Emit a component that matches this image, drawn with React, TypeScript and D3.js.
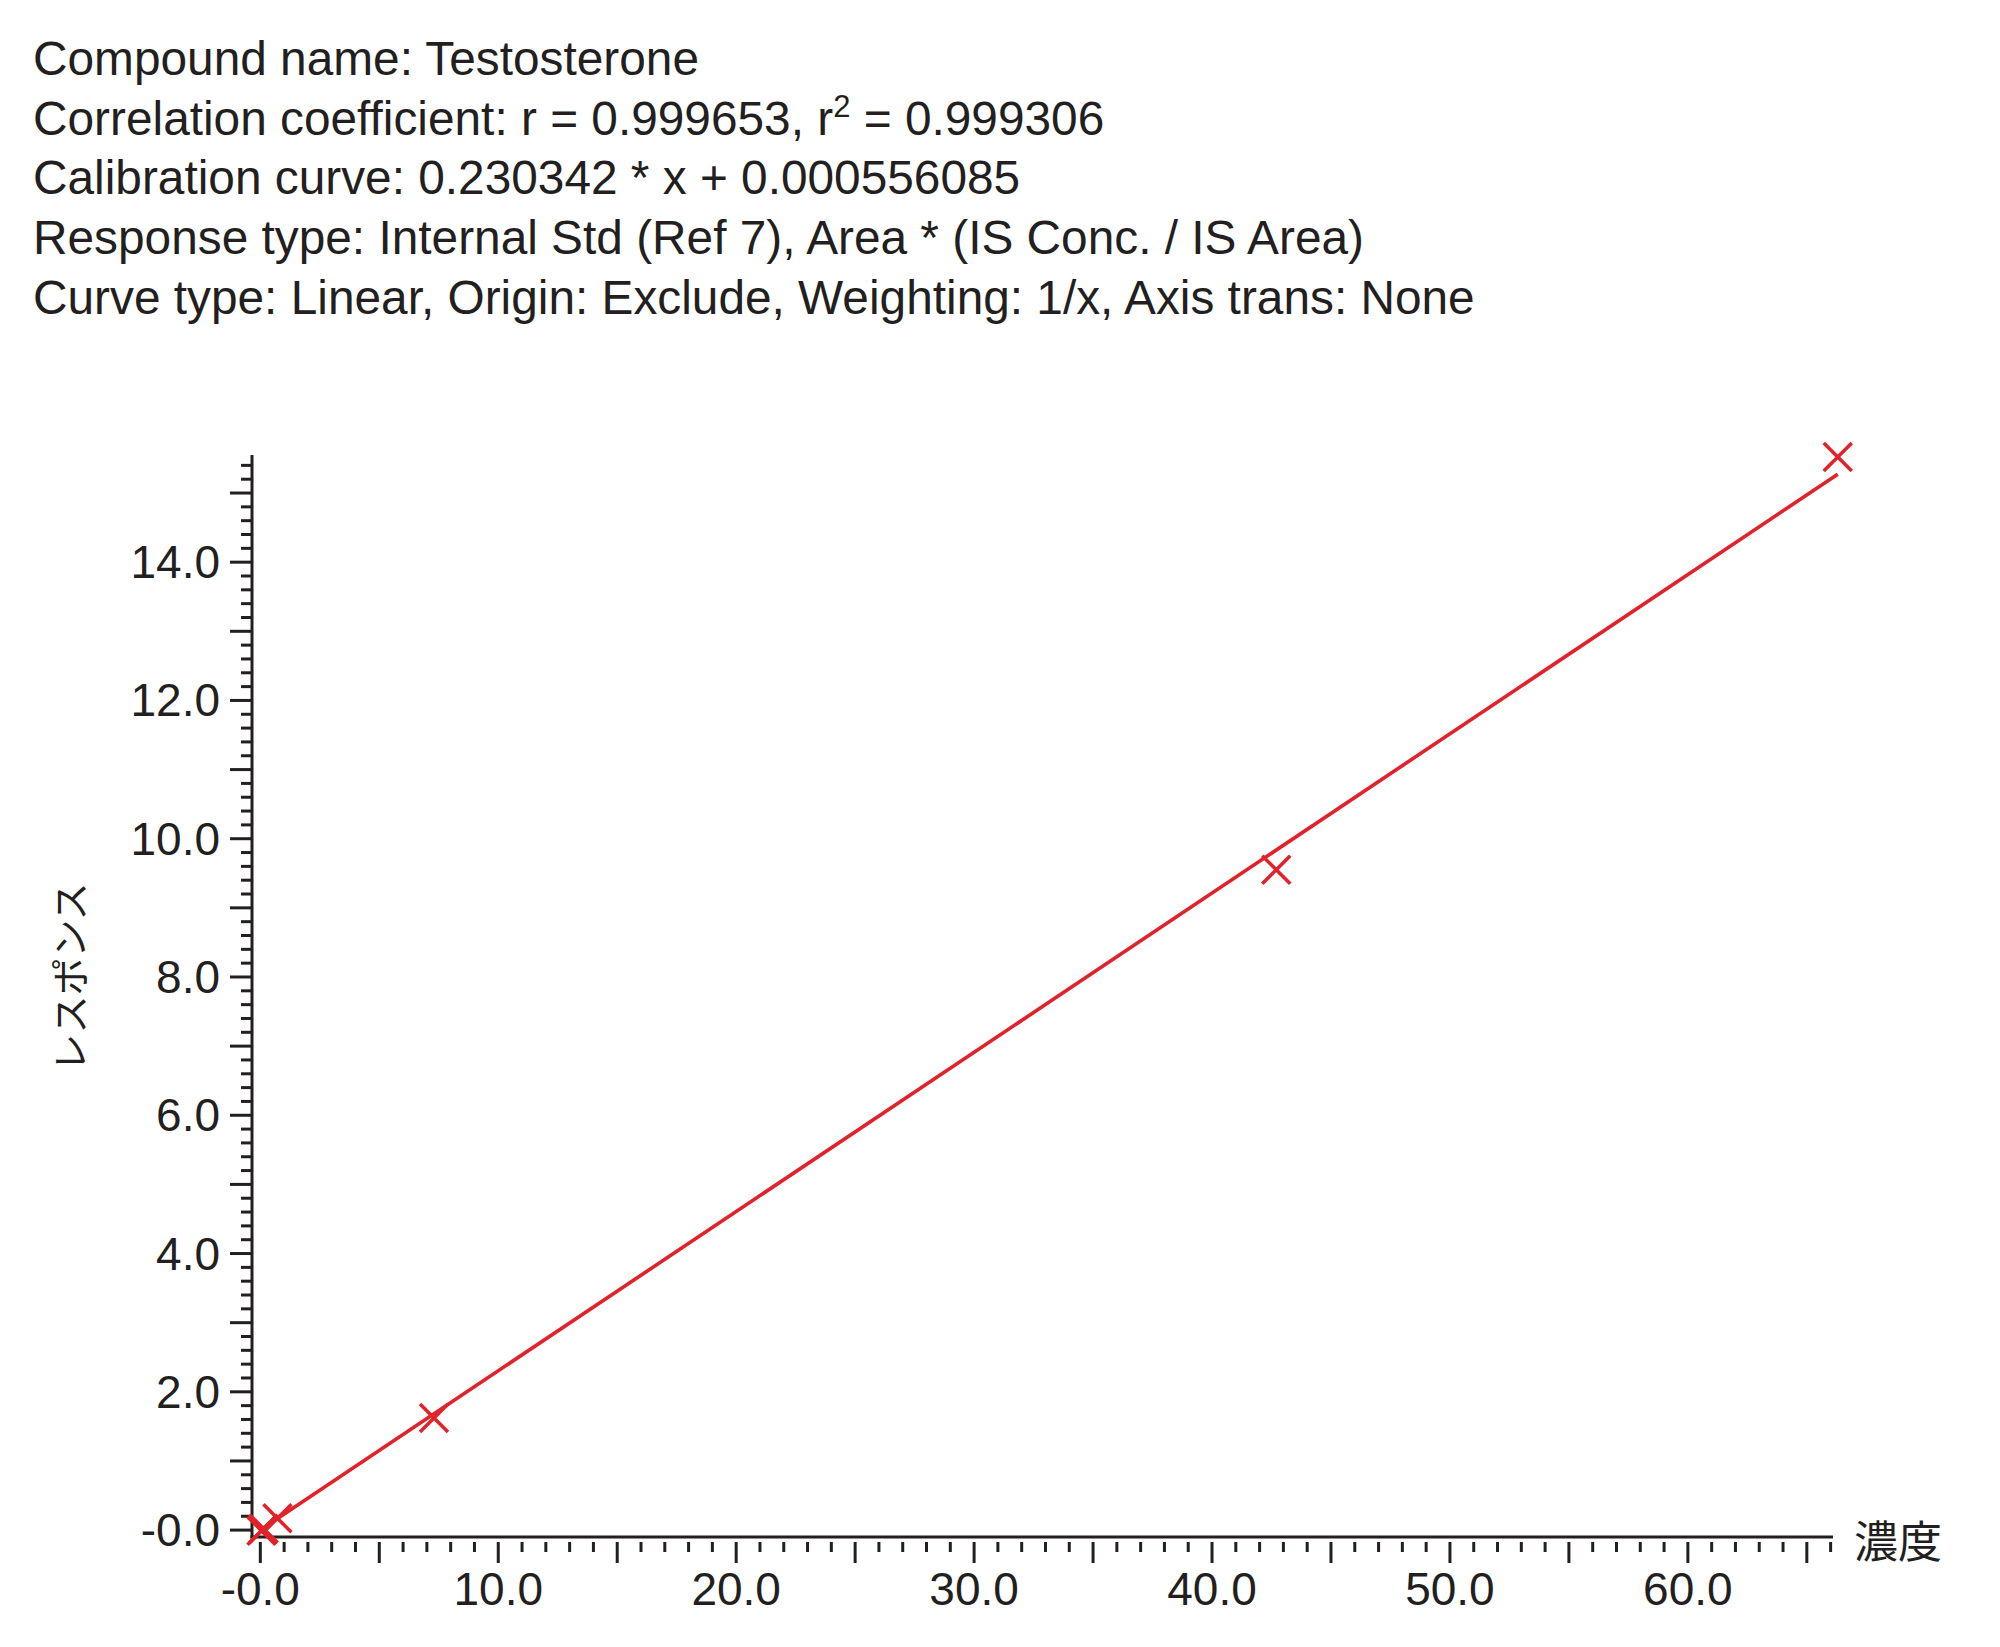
import React from "react";
import * as d3 from "d3";

const titleLines = [
  "Compound name: Testosterone",
  "Correlation coefficient: r = 0.999653, r2 = 0.999306",
  "Calibration curve: 0.230342 * x + 0.000556085",
  "Response type: Internal Std (Ref 7), Area * (IS Conc. / IS Area)",
  "Curve type: Linear, Origin: Exclude, Weighting: 1/x, Axis trans: None",
];

// calibration points (concentration, response)
const concX = [0.05, 0.1, 0.14, 0.72, 7.3, 42.7, 66.3];
const respY = [-0.01, 0.01, 0.02, 0.17, 1.62, 9.55, 15.52];

const slope = 0.230342;
const intercept = 0.000556085;

const xTickValues = [0, 10, 20, 30, 40, 50, 60];
const xTickLabels = ["-0.0", "10.0", "20.0", "30.0", "40.0", "50.0", "60.0"];
const yTickValues = [0, 2, 4, 6, 8, 10, 12, 14];
const yTickLabels = ["-0.0", "2.0", "4.0", "6.0", "8.0", "10.0", "12.0", "14.0"];

const xLabel = "濃度";
const yLabel = "レスポンス";

const W = 2000;
const H = 1647;
const TXT = "#231f20";
const RED = "#e2222a";
const FONT = "'Liberation Sans', Arial, Helvetica, sans-serif";
const CJK = "'Noto Sans CJK JP', 'Noto Sans CJK SC', sans-serif";

export default function App() {
  const x = d3.scaleLinear().domain([-0.35, 66.1]).range([252, 1833]);
  const y = d3.scaleLinear().domain([-0.1, 15.55]).range([1537, 455]);

  const xMinor = d3.range(0, 66.001, 1);
  const yMinor = d3.range(0, 15.401, 0.2).map((v) => Math.round(v * 10) / 10);

  const xMin = d3.min(concX) as number;
  const xMax = d3.max(concX) as number;
  const fitLine = d3
    .line<number>()
    .x((v) => x(v))
    .y((v) => y(slope * v + intercept));

  const crossHalf = 14;

  return (
    <svg
      width={W}
      height={H}
      style={{ position: "absolute", left: 0, top: 0, background: "#fff" }}
    >
      <rect width={W} height={H} fill="#fff" />
      {titleLines.map((t, i) => {
        const yy = 75 + i * 59.7;
        if (i === 1) {
          const parts = t.split("r2");
          return (
            <text key={i} x={33} y={yy} fontFamily={FONT} fontSize={47.8} fill={TXT}>
              {parts[0]}r<tspan dy={-18} fontSize={31}>2</tspan>
              <tspan dy={18}>{parts[1]}</tspan>
            </text>
          );
        }
        return (
          <text key={i} x={33} y={yy} fontFamily={FONT} fontSize={47.8} fill={TXT}>
            {t}
          </text>
        );
      })}

      {/* axes */}
      <line x1={252} x2={252} y1={455} y2={1538.5} stroke={TXT} strokeWidth={3} />
      <line x1={250.5} x2={1833} y1={1537} y2={1537} stroke={TXT} strokeWidth={3} />

      {/* y ticks */}
      {yMinor.map((v) => {
        const isInt = Math.abs(v - Math.round(v)) < 1e-6;
        const len = isInt ? 22 : 11;
        return (
          <line key={"ym" + v} x1={252 - len} x2={252} y1={y(v)} y2={y(v)} stroke={TXT} strokeWidth={3} />
        );
      })}
      {yTickValues.map((v, i) => (
        <text
          key={"yl" + v}
          x={220}
          y={y(v)}
          dy={16}
          textAnchor="end"
          fontFamily={FONT}
          fontSize={46}
          fill={TXT}
        >
          {yTickLabels[i]}
        </text>
      ))}

      {/* x ticks */}
      {xMinor.map((v) => {
        const isFive = Math.round(v) % 5 === 0;
        const len = isFive ? 21 : 10;
        return (
          <line key={"xm" + v} x1={x(v)} x2={x(v)} y1={1542} y2={1542 + len} stroke={TXT} strokeWidth={3} />
        );
      })}
      {xTickValues.map((v, i) => (
        <text
          key={"xl" + v}
          x={x(v)}
          y={1605}
          textAnchor="middle"
          fontFamily={FONT}
          fontSize={46}
          fill={TXT}
        >
          {xTickLabels[i]}
        </text>
      ))}

      {/* axis titles */}
      <text x={1854} y={1558} fontFamily={CJK} fontSize={44} fill={TXT}>
        {xLabel}
      </text>
      <text
        transform={`translate(84, 977) rotate(-90)`}
        textAnchor="middle"
        fontFamily={CJK}
        fontSize={38}
        fill={TXT}
      >
        {yLabel}
      </text>

      {/* fit line */}
      <path d={fitLine([xMin, xMax]) || ""} fill="none" stroke={RED} strokeWidth={3.6} />

      {/* points */}
      {concX.map((cx, i) => {
        const px = x(cx);
        const py = y(respY[i]);
        return (
          <g key={"p" + i} stroke={RED} strokeWidth={3.5}>
            <line x1={px - crossHalf} y1={py - crossHalf} x2={px + crossHalf} y2={py + crossHalf} />
            <line x1={px - crossHalf} y1={py + crossHalf} x2={px + crossHalf} y2={py - crossHalf} />
          </g>
        );
      })}
    </svg>
  );
}
